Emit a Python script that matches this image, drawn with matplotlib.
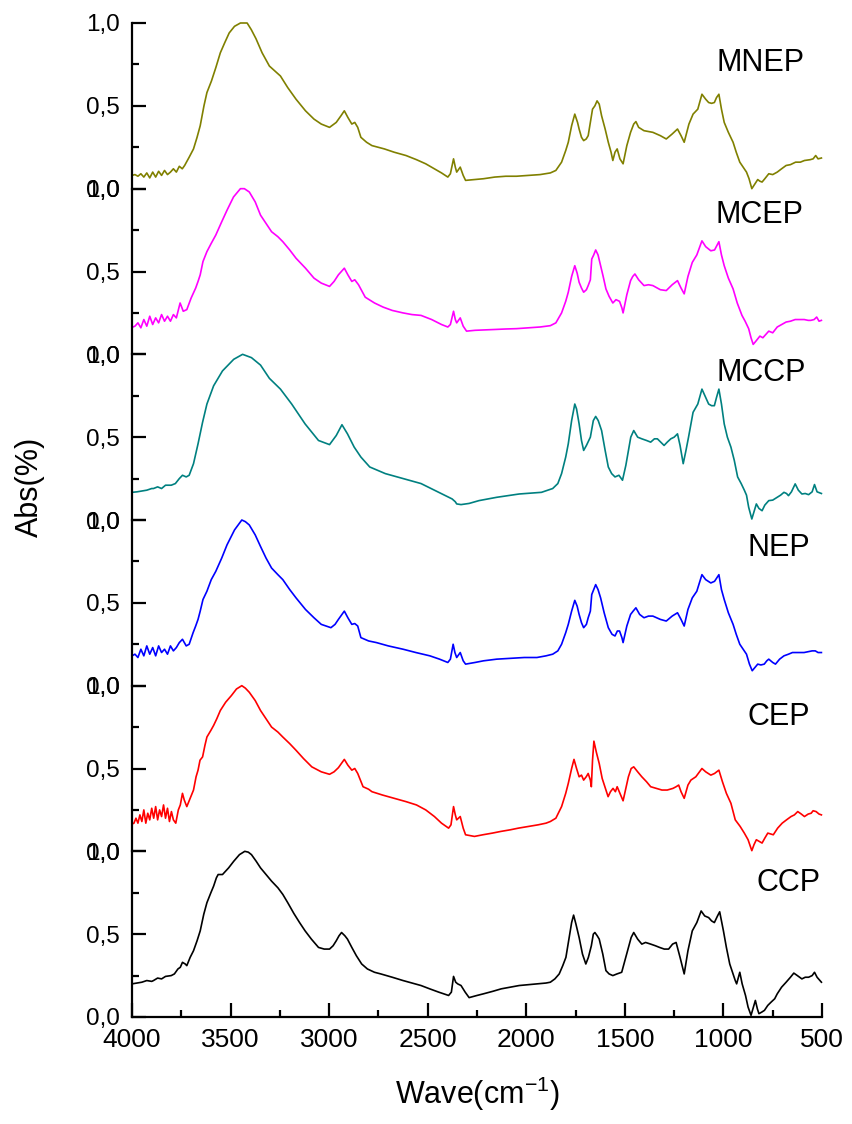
import matplotlib
matplotlib.use("Agg")
import matplotlib.pyplot as plt
from matplotlib.ticker import MultipleLocator, FixedLocator

plt.rcParams['font.family'] = ['Liberation Sans', 'DejaVu Sans']
plt.rcParams['mathtext.fontset'] = 'custom'
plt.rcParams['mathtext.rm'] = 'Liberation Sans'
plt.rcParams['mathtext.it'] = 'Liberation Sans'

# (wavenumber, absorbance), top panel first
mnep = [(4000, 0.08), (3985, 0.085), (3970, 0.075), (3955, 0.09), (3940, 0.07), (3925, 0.095),
        (3910, 0.065), (3895, 0.10), (3880, 0.07), (3865, 0.105), (3850, 0.08), (3835, 0.11),
        (3820, 0.085), (3805, 0.10), (3790, 0.12), (3775, 0.10), (3760, 0.135), (3745, 0.12),
        (3733, 0.14), (3710, 0.19), (3688, 0.24), (3670, 0.31), (3654, 0.38), (3635, 0.50),
        (3620, 0.58), (3597, 0.65), (3575, 0.73), (3552, 0.82), (3530, 0.88), (3507, 0.94),
        (3480, 0.98), (3450, 1.0), (3416, 1.0), (3395, 0.96), (3371, 0.905), (3340, 0.82),
        (3303, 0.74), (3275, 0.71), (3247, 0.68), (3210, 0.61), (3168, 0.54), (3120, 0.47),
        (3077, 0.42), (3040, 0.39), (2998, 0.37), (2964, 0.40), (2940, 0.44), (2923, 0.47),
        (2905, 0.43), (2885, 0.39), (2870, 0.40), (2855, 0.37), (2839, 0.31), (2810, 0.28),
        (2783, 0.26), (2720, 0.24), (2670, 0.22), (2610, 0.20), (2557, 0.175), (2510, 0.15),
        (2466, 0.12), (2430, 0.095), (2398, 0.07), (2385, 0.09), (2369, 0.18), (2360, 0.13),
        (2353, 0.10), (2335, 0.13), (2320, 0.08), (2308, 0.05), (2260, 0.055), (2217, 0.06),
        (2160, 0.07), (2104, 0.075), (2050, 0.075), (1991, 0.08), (1930, 0.085), (1878, 0.095),
        (1850, 0.11), (1821, 0.16), (1800, 0.23), (1787, 0.28), (1770, 0.38), (1754, 0.45),
        (1740, 0.40), (1732, 0.36), (1720, 0.31), (1709, 0.29), (1696, 0.30), (1686, 0.32),
        (1675, 0.40), (1664, 0.48), (1652, 0.50), (1641, 0.53), (1630, 0.51), (1618, 0.44),
        (1600, 0.36), (1584, 0.28), (1570, 0.22), (1561, 0.17), (1550, 0.22), (1539, 0.24),
        (1525, 0.18), (1509, 0.15), (1490, 0.26), (1471, 0.34), (1455, 0.39), (1444, 0.405),
        (1430, 0.37), (1403, 0.35), (1380, 0.345), (1358, 0.34), (1320, 0.32), (1290, 0.30),
        (1260, 0.33), (1233, 0.36), (1215, 0.32), (1199, 0.28), (1175, 0.39), (1154, 0.45),
        (1130, 0.48), (1109, 0.57), (1090, 0.54), (1075, 0.52), (1060, 0.515), (1046, 0.52),
        (1035, 0.55), (1023, 0.57), (1010, 0.48), (996, 0.40), (975, 0.34), (951, 0.28),
        (935, 0.22), (917, 0.16), (900, 0.13), (883, 0.10), (870, 0.06), (856, 0.0),
        (840, 0.03), (826, 0.055), (815, 0.045), (804, 0.04), (790, 0.06), (770, 0.09),
        (750, 0.085), (727, 0.10), (705, 0.12), (682, 0.14), (660, 0.145), (634, 0.16),
        (610, 0.16), (589, 0.17), (560, 0.175), (545, 0.18), (532, 0.20), (520, 0.18), (503, 0.185)]

mcep = [(4000, 0.163), (3985, 0.17), (3970, 0.19), (3955, 0.16), (3940, 0.21), (3925, 0.17),
        (3910, 0.23), (3895, 0.18), (3880, 0.22), (3865, 0.19), (3850, 0.24), (3835, 0.2),
        (3820, 0.23), (3805, 0.2), (3790, 0.24), (3775, 0.22), (3756, 0.31), (3740, 0.26),
        (3722, 0.27), (3700, 0.34), (3677, 0.40), (3665, 0.44), (3654, 0.48), (3640, 0.56),
        (3620, 0.62), (3598, 0.67), (3575, 0.72), (3545, 0.80), (3518, 0.87), (3485, 0.95),
        (3450, 1.0), (3430, 1.0), (3405, 0.98), (3375, 0.92), (3348, 0.84), (3320, 0.79),
        (3292, 0.74), (3260, 0.71), (3235, 0.68), (3200, 0.63), (3168, 0.58), (3120, 0.52),
        (3077, 0.46), (3040, 0.43), (2998, 0.41), (2975, 0.44), (2953, 0.48), (2923, 0.52),
        (2905, 0.48), (2885, 0.44), (2870, 0.45), (2851, 0.42), (2817, 0.345), (2770, 0.31),
        (2726, 0.285), (2680, 0.265), (2625, 0.25), (2580, 0.24), (2534, 0.235), (2480, 0.21),
        (2430, 0.18), (2398, 0.165), (2385, 0.18), (2369, 0.26), (2360, 0.21), (2353, 0.19),
        (2335, 0.22), (2320, 0.17), (2303, 0.14), (2260, 0.145), (2217, 0.147), (2160, 0.15),
        (2104, 0.153), (2050, 0.155), (1991, 0.16), (1930, 0.165), (1878, 0.173), (1850, 0.19),
        (1821, 0.25), (1800, 0.32), (1787, 0.375), (1770, 0.47), (1754, 0.535), (1742, 0.49),
        (1732, 0.435), (1720, 0.40), (1709, 0.375), (1695, 0.39), (1686, 0.415), (1675, 0.45),
        (1668, 0.575), (1658, 0.60), (1648, 0.63), (1636, 0.60), (1625, 0.545), (1610, 0.47),
        (1596, 0.395), (1580, 0.35), (1561, 0.31), (1545, 0.33), (1527, 0.32), (1515, 0.28),
        (1509, 0.25), (1490, 0.36), (1471, 0.445), (1460, 0.47), (1449, 0.485), (1430, 0.45),
        (1403, 0.415), (1380, 0.42), (1358, 0.415), (1320, 0.39), (1290, 0.385), (1260, 0.42),
        (1233, 0.445), (1215, 0.40), (1199, 0.365), (1180, 0.47), (1158, 0.555), (1135, 0.60),
        (1109, 0.685), (1090, 0.65), (1064, 0.625), (1045, 0.63), (1023, 0.68), (1010, 0.60),
        (996, 0.535), (975, 0.46), (951, 0.395), (930, 0.31), (906, 0.235), (890, 0.20),
        (872, 0.155), (860, 0.10), (849, 0.06), (835, 0.08), (815, 0.11), (800, 0.10),
        (785, 0.12), (770, 0.14), (750, 0.13), (727, 0.165), (705, 0.18), (682, 0.195),
        (660, 0.20), (636, 0.21), (614, 0.21), (590, 0.21), (570, 0.205), (557, 0.205),
        (540, 0.21), (527, 0.225), (515, 0.20), (503, 0.205)]

mccp = [(4000, 0.167), (3975, 0.17), (3950, 0.175), (3925, 0.18), (3900, 0.19), (3891, 0.19),
        (3870, 0.20), (3850, 0.19), (3830, 0.21), (3801, 0.21), (3780, 0.22), (3760, 0.25),
        (3744, 0.27), (3725, 0.26), (3710, 0.27), (3688, 0.34), (3665, 0.46), (3642, 0.59),
        (3620, 0.70), (3586, 0.81), (3541, 0.90), (3484, 0.97), (3439, 1.0), (3394, 0.98),
        (3348, 0.935), (3303, 0.855), (3247, 0.79), (3190, 0.70), (3122, 0.58), (3054, 0.48),
        (2998, 0.455), (2964, 0.51), (2935, 0.575), (2907, 0.52), (2873, 0.44), (2839, 0.38),
        (2794, 0.32), (2715, 0.28), (2625, 0.25), (2534, 0.22), (2444, 0.167), (2376, 0.127),
        (2360, 0.11), (2353, 0.097), (2331, 0.093), (2290, 0.10), (2240, 0.117), (2150, 0.137),
        (2036, 0.157), (1923, 0.167), (1866, 0.19), (1840, 0.22), (1821, 0.28), (1800, 0.38),
        (1787, 0.46), (1770, 0.60), (1754, 0.70), (1745, 0.67), (1732, 0.58), (1720, 0.48),
        (1709, 0.42), (1695, 0.45), (1675, 0.50), (1660, 0.60), (1648, 0.625), (1635, 0.60),
        (1618, 0.54), (1600, 0.42), (1584, 0.32), (1567, 0.28), (1550, 0.26), (1530, 0.27),
        (1512, 0.24), (1495, 0.33), (1482, 0.42), (1470, 0.50), (1455, 0.54), (1435, 0.50),
        (1414, 0.49), (1390, 0.48), (1369, 0.47), (1350, 0.49), (1335, 0.49), (1318, 0.47),
        (1301, 0.45), (1285, 0.47), (1267, 0.49), (1250, 0.50), (1233, 0.52), (1220, 0.45),
        (1204, 0.34), (1190, 0.42), (1177, 0.50), (1165, 0.58), (1154, 0.65), (1130, 0.70),
        (1109, 0.79), (1090, 0.74), (1075, 0.70), (1060, 0.69), (1046, 0.69), (1035, 0.74),
        (1023, 0.79), (1010, 0.70), (996, 0.58), (980, 0.50), (962, 0.44), (945, 0.36),
        (928, 0.26), (910, 0.22), (894, 0.18), (883, 0.15), (872, 0.077), (856, 0.006),
        (845, 0.05), (833, 0.097), (820, 0.07), (804, 0.056), (790, 0.09), (770, 0.117),
        (750, 0.12), (727, 0.137), (710, 0.15), (693, 0.167), (680, 0.16), (670, 0.147),
        (655, 0.17), (636, 0.218), (620, 0.18), (602, 0.157), (585, 0.16), (568, 0.153),
        (550, 0.17), (538, 0.214), (525, 0.17), (503, 0.16)]

nep = [(4000, 0.18), (3985, 0.19), (3970, 0.17), (3955, 0.22), (3940, 0.18), (3925, 0.24),
       (3910, 0.19), (3895, 0.23), (3880, 0.18), (3865, 0.24), (3850, 0.2), (3835, 0.22),
       (3820, 0.19), (3805, 0.24), (3790, 0.21), (3775, 0.23), (3760, 0.26), (3744, 0.28),
       (3725, 0.24), (3710, 0.25), (3690, 0.32), (3677, 0.36), (3665, 0.40), (3654, 0.45),
       (3640, 0.52), (3620, 0.57), (3598, 0.64), (3575, 0.69), (3545, 0.77), (3518, 0.85),
       (3480, 0.94), (3443, 1.0), (3425, 0.99), (3405, 0.97), (3375, 0.91), (3348, 0.84),
       (3320, 0.77), (3292, 0.71), (3260, 0.67), (3235, 0.64), (3200, 0.58), (3168, 0.53),
       (3120, 0.46), (3077, 0.41), (3040, 0.37), (2991, 0.35), (2970, 0.37), (2953, 0.40),
       (2923, 0.45), (2905, 0.41), (2885, 0.37), (2870, 0.375), (2855, 0.36), (2839, 0.29),
       (2800, 0.27), (2760, 0.26), (2700, 0.24), (2625, 0.22), (2560, 0.20), (2489, 0.18),
       (2440, 0.16), (2398, 0.14), (2385, 0.16), (2371, 0.25), (2362, 0.20), (2353, 0.17),
       (2335, 0.20), (2320, 0.15), (2308, 0.13), (2260, 0.14), (2217, 0.15), (2150, 0.16),
       (2081, 0.165), (2010, 0.17), (1946, 0.17), (1900, 0.18), (1866, 0.19), (1840, 0.21),
       (1821, 0.25), (1800, 0.32), (1787, 0.37), (1770, 0.45), (1754, 0.515), (1742, 0.48),
       (1732, 0.43), (1720, 0.38), (1709, 0.35), (1695, 0.37), (1686, 0.41), (1675, 0.45),
       (1668, 0.55), (1658, 0.58), (1648, 0.61), (1636, 0.58), (1623, 0.53), (1605, 0.44),
       (1584, 0.35), (1565, 0.31), (1550, 0.30), (1538, 0.33), (1527, 0.33), (1515, 0.29),
       (1509, 0.26), (1490, 0.36), (1471, 0.43), (1458, 0.45), (1444, 0.47), (1425, 0.43),
       (1403, 0.41), (1380, 0.42), (1358, 0.42), (1320, 0.40), (1290, 0.39), (1260, 0.42),
       (1233, 0.44), (1215, 0.40), (1199, 0.36), (1180, 0.46), (1158, 0.53), (1135, 0.57),
       (1109, 0.67), (1090, 0.64), (1064, 0.62), (1045, 0.63), (1023, 0.67), (1010, 0.58),
       (996, 0.52), (975, 0.44), (951, 0.37), (935, 0.31), (917, 0.25), (900, 0.22),
       (883, 0.19), (868, 0.13), (854, 0.09), (840, 0.11), (826, 0.13), (810, 0.125),
       (793, 0.13), (780, 0.15), (770, 0.16), (750, 0.14), (736, 0.13), (715, 0.16),
       (693, 0.18), (670, 0.19), (650, 0.20), (636, 0.20), (614, 0.20), (591, 0.20),
       (570, 0.205), (550, 0.21), (534, 0.21), (520, 0.20), (503, 0.20)]

cep = [(4000, 0.165), (3990, 0.17), (3980, 0.2), (3970, 0.17), (3960, 0.22), (3950, 0.18),
       (3940, 0.25), (3930, 0.17), (3920, 0.23), (3910, 0.19), (3900, 0.26), (3890, 0.2),
       (3880, 0.27), (3870, 0.19), (3860, 0.25), (3850, 0.21), (3840, 0.28), (3830, 0.2),
       (3820, 0.26), (3810, 0.18), (3800, 0.24), (3790, 0.19), (3778, 0.17), (3765, 0.25),
       (3755, 0.28), (3744, 0.35), (3735, 0.31), (3722, 0.27), (3705, 0.32), (3688, 0.37),
       (3675, 0.45), (3665, 0.49), (3655, 0.55), (3642, 0.57), (3630, 0.64), (3620, 0.69),
       (3600, 0.73), (3586, 0.76), (3570, 0.80), (3552, 0.85), (3525, 0.90), (3496, 0.94),
       (3470, 0.98), (3443, 1.0), (3425, 0.985), (3405, 0.96), (3375, 0.91), (3348, 0.85),
       (3320, 0.80), (3292, 0.75), (3260, 0.72), (3235, 0.69), (3200, 0.65), (3168, 0.61),
       (3130, 0.56), (3088, 0.51), (3040, 0.48), (2998, 0.465), (2975, 0.48), (2953, 0.505),
       (2923, 0.555), (2905, 0.52), (2885, 0.49), (2870, 0.50), (2855, 0.47), (2828, 0.39),
       (2800, 0.375), (2783, 0.36), (2730, 0.34), (2670, 0.32), (2610, 0.30), (2557, 0.28),
       (2510, 0.25), (2466, 0.21), (2430, 0.17), (2394, 0.14), (2382, 0.16), (2369, 0.27),
       (2360, 0.22), (2353, 0.19), (2335, 0.21), (2320, 0.14), (2308, 0.10), (2263, 0.09),
       (2220, 0.10), (2172, 0.11), (2130, 0.12), (2081, 0.13), (2040, 0.14), (1991, 0.15),
       (1940, 0.16), (1900, 0.17), (1878, 0.18), (1850, 0.20), (1821, 0.27), (1800, 0.35),
       (1787, 0.41), (1770, 0.50), (1758, 0.555), (1745, 0.50), (1732, 0.45), (1720, 0.46),
       (1709, 0.43), (1696, 0.45), (1686, 0.47), (1675, 0.43), (1670, 0.39), (1664, 0.55),
       (1657, 0.665), (1645, 0.60), (1630, 0.53), (1615, 0.44), (1596, 0.37), (1585, 0.33),
       (1573, 0.36), (1560, 0.38), (1548, 0.36), (1539, 0.39), (1525, 0.35), (1509, 0.305),
       (1495, 0.38), (1482, 0.45), (1468, 0.50), (1455, 0.51), (1435, 0.48), (1414, 0.45),
       (1390, 0.42), (1369, 0.39), (1340, 0.38), (1312, 0.37), (1285, 0.37), (1256, 0.38),
       (1240, 0.39), (1227, 0.40), (1215, 0.36), (1199, 0.32), (1180, 0.40), (1165, 0.43),
       (1140, 0.45), (1109, 0.50), (1090, 0.48), (1064, 0.46), (1045, 0.47), (1023, 0.49),
       (1005, 0.42), (985, 0.35), (962, 0.29), (940, 0.19), (915, 0.15), (894, 0.11),
       (875, 0.07), (856, 0.004), (845, 0.04), (833, 0.07), (818, 0.06), (804, 0.05),
       (790, 0.08), (775, 0.11), (760, 0.105), (747, 0.10), (725, 0.14), (702, 0.17),
       (680, 0.19), (657, 0.21), (640, 0.22), (623, 0.24), (605, 0.225), (589, 0.21),
       (570, 0.225), (555, 0.23), (545, 0.245), (530, 0.24), (515, 0.225), (503, 0.22)]

ccp = [(4000, 0.20), (3975, 0.205), (3950, 0.21), (3925, 0.22), (3900, 0.215), (3891, 0.22),
       (3870, 0.235), (3850, 0.23), (3830, 0.245), (3801, 0.25), (3785, 0.26), (3767, 0.29),
       (3755, 0.30), (3744, 0.33), (3730, 0.32), (3722, 0.31), (3705, 0.36), (3688, 0.40),
       (3670, 0.46), (3654, 0.52), (3636, 0.62), (3620, 0.69), (3600, 0.75), (3586, 0.79),
       (3572, 0.84), (3563, 0.86), (3550, 0.86), (3541, 0.86), (3510, 0.90), (3484, 0.94),
       (3455, 0.98), (3428, 1.0), (3410, 0.995), (3394, 0.98), (3370, 0.94), (3348, 0.90),
       (3320, 0.86), (3292, 0.82), (3260, 0.78), (3235, 0.74), (3210, 0.69), (3179, 0.625),
       (3150, 0.57), (3122, 0.52), (3090, 0.47), (3054, 0.42), (3025, 0.41), (2998, 0.41),
       (2980, 0.43), (2964, 0.46), (2950, 0.49), (2937, 0.51), (2920, 0.49), (2907, 0.47),
       (2885, 0.42), (2862, 0.37), (2835, 0.32), (2806, 0.29), (2770, 0.27), (2738, 0.26),
       (2680, 0.24), (2625, 0.22), (2580, 0.205), (2534, 0.19), (2490, 0.17), (2444, 0.15),
       (2394, 0.13), (2380, 0.15), (2369, 0.245), (2358, 0.21), (2348, 0.20), (2331, 0.19),
       (2310, 0.15), (2290, 0.117), (2250, 0.13), (2217, 0.14), (2170, 0.155), (2127, 0.17),
       (2080, 0.18), (2036, 0.19), (1990, 0.195), (1946, 0.20), (1900, 0.205), (1878, 0.21),
       (1855, 0.23), (1833, 0.26), (1815, 0.31), (1799, 0.36), (1785, 0.46), (1770, 0.57),
       (1760, 0.615), (1748, 0.56), (1732, 0.48), (1715, 0.38), (1698, 0.32), (1685, 0.36),
       (1670, 0.43), (1660, 0.50), (1652, 0.51), (1640, 0.49), (1630, 0.47), (1612, 0.38),
       (1596, 0.28), (1580, 0.26), (1561, 0.25), (1540, 0.26), (1516, 0.27), (1500, 0.34),
       (1482, 0.42), (1468, 0.48), (1455, 0.51), (1435, 0.47), (1414, 0.44), (1395, 0.45),
       (1369, 0.44), (1345, 0.43), (1324, 0.42), (1300, 0.41), (1278, 0.41), (1258, 0.44),
       (1240, 0.45), (1220, 0.36), (1199, 0.26), (1180, 0.40), (1158, 0.52), (1135, 0.57),
       (1113, 0.64), (1095, 0.61), (1075, 0.60), (1060, 0.58), (1046, 0.57), (1030, 0.61),
       (1019, 0.635), (1000, 0.52), (985, 0.42), (968, 0.32), (951, 0.26), (940, 0.22),
       (933, 0.20), (917, 0.27), (905, 0.20), (888, 0.13), (875, 0.06), (860, 0.01),
       (848, 0.06), (838, 0.10), (828, 0.05), (820, 0.02), (805, 0.03), (792, 0.04),
       (775, 0.07), (758, 0.09), (740, 0.11), (727, 0.14), (705, 0.18), (682, 0.21),
       (660, 0.24), (643, 0.265), (625, 0.25), (602, 0.23), (585, 0.24), (568, 0.24),
       (550, 0.25), (538, 0.27), (525, 0.24), (503, 0.21)]

names = ["MNEP", "MCEP", "MCCP", "NEP", "CEP", "CCP"]
spectra = [mnep, mcep, mccp, nep, cep, ccp]
colors = ["#808000", "#ff00ff", "#008080", "#0000ff", "#ff0000", "#000000"]
label_pos = [(810, 0.76), (815, 0.84), (810, 0.89), (720, 0.83), (720, 0.81), (670, 0.81)]
y_ticks = [0.0, 0.5, 1.0]
y_ticklabels = ["0,0", "0,5", "1,0"]
x_ticks = [4000, 3500, 3000, 2500, 2000, 1500, 1000, 500]


def main():
    fig = plt.figure(figsize=(8.53, 11.24), dpi=100)
    left, right = 132 / 853, 822 / 853
    top, bottom = 1 - 23 / 1124, 1 - 1017 / 1124
    h = (top - bottom) / len(names)

    for i, (name, data, color) in enumerate(zip(names, spectra, colors)):
        ax = fig.add_axes([left, top - (i + 1) * h, right - left, h])
        ax.patch.set_alpha(0)
        wn = [p[0] for p in data]
        ab = [p[1] for p in data]
        ax.plot(wn, ab, color=color, lw=1.2, clip_on=False)
        ax.set_xlim(4000, 500)
        ax.set_ylim(0, 1)
        for s in ["top", "right"]:
            ax.spines[s].set_visible(False)
        ax.spines["left"].set_linewidth(1.6)
        ax.yaxis.set_major_locator(FixedLocator(y_ticks))
        ax.set_yticklabels(y_ticklabels, fontsize=17.5)
        ax.yaxis.set_minor_locator(MultipleLocator(0.25))
        ax.tick_params(axis="y", which="major", direction="in", length=10, width=1.6, pad=9)
        ax.tick_params(axis="y", which="minor", direction="in", length=5, width=1.6)
        ax.text(label_pos[i][0], label_pos[i][1], name, fontsize=22,
                ha="center", va="center")
        if i < len(names) - 1:
            ax.spines["bottom"].set_visible(False)
            ax.set_xticks([])
            ax.xaxis.set_minor_locator(plt.NullLocator())
        else:
            ax.spines["bottom"].set_linewidth(1.6)
            ax.set_xticks(x_ticks)
            ax.set_xticklabels([str(t) for t in x_ticks], fontsize=19)
            ax.xaxis.set_minor_locator(MultipleLocator(250))
            ax.tick_params(axis="x", which="major", direction="in", length=10, width=1.6, pad=8)
            ax.tick_params(axis="x", which="minor", direction="in", length=5, width=1.6)
            ax.set_xlabel("Wave(cm$^{-1}$)", fontsize=22, labelpad=16)

    fig.text(30 / 853, 1 - 487 / 1124, "Abs(%)", rotation=90, fontsize=22,
             ha="center", va="center")
    fig.savefig("out.png", dpi=100)


if __name__ == "__main__":
    main()
